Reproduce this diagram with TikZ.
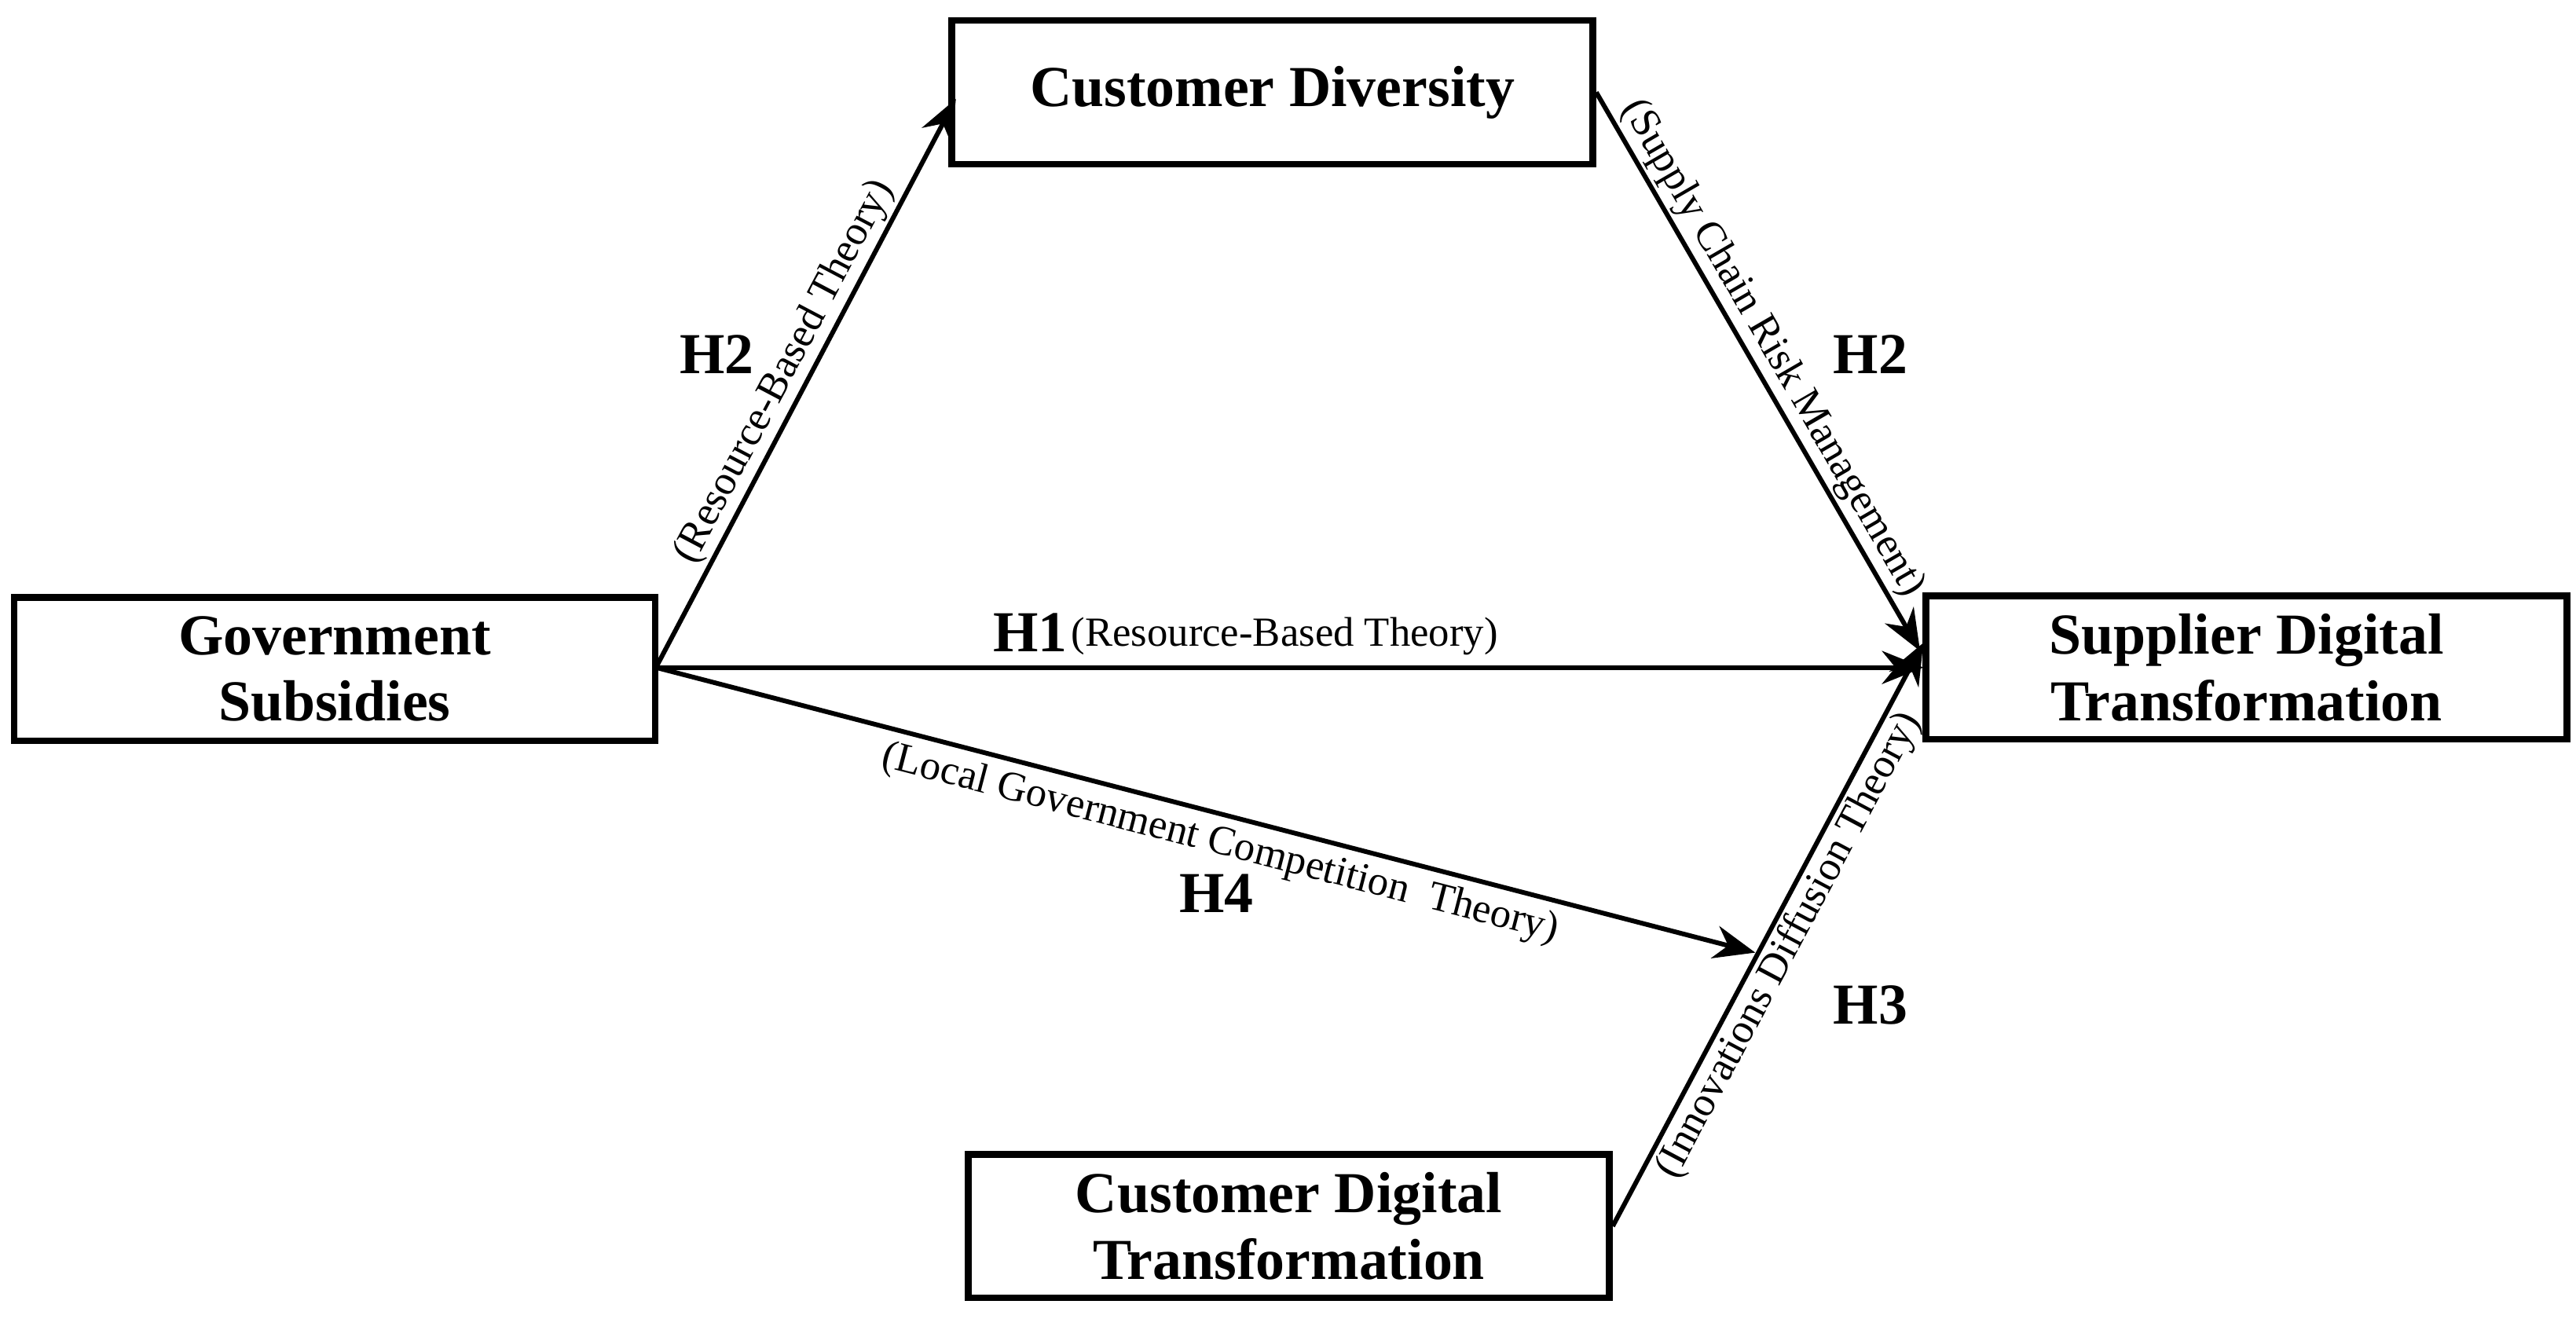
\documentclass[tikz,border=0pt]{standalone}
\usepackage{fontspec}
\setmainfont{Liberation Serif}
\usetikzlibrary{arrows.meta}
\begin{document}
\begin{tikzpicture}[x=0.02098cm,y=-0.02098cm,
  box/.style={draw,line width=2.4pt,minimum width=389*0.02098cm,minimum height=87*0.02098cm,align=center,font=\fontsize{21}{24}\selectfont\bfseries,inner sep=0pt},
  arr/.style={line width=1.7pt,-{Stealth[length=15pt,width=12pt]}},
  th/.style={font=\fontsize{15}{17}\selectfont,inner sep=1pt},
  hl/.style={font=\fontsize{21}{23}\selectfont\bfseries}]
\useasboundingbox (0,0) rectangle (1563,800);
\node[box] (cd) at (772,56) {Customer Diversity};
\node[box] (gs) at (203,406) {Government\\Subsidies};
\node[box] (sdt) at (1363,405) {Supplier Digital\\Transformation};
\node[box] (cdt) at (782,744) {Customer Digital\\Transformation};
\coordinate (a1) at (580,60);
\coordinate (a2) at (1165,395);
\coordinate (a3) at (1167,405);
\coordinate (a4) at (1065,578);
\coordinate (a5) at (1167,390);
\coordinate (s1) at (398,405);
\draw[arr] (s1) -- (a1) node[midway,sloped,above,th]{(Resource-Based Theory)};
\draw[arr] (s1) -- (a3);
\draw[arr] (s1) -- (a4) node[pos=0.52,sloped,below,th,yshift=-2pt]{(Local Government Competition \ Theory)};
\draw[arr] (cd.east) -- (a2) node[pos=0.48,sloped,above,th]{(Supply Chain Risk Management)};
\draw[arr] (cdt.east) -- (a5) node[midway,sloped,below,th]{(Innovations Diffusion Theory)};
\node[hl] (h2a) at (435,215) {H2};
\node[hl] (h2b) at (1135,215) {H2};
\node[hl] (h1) at (625,384) {H1};
\node[th,anchor=west] (h1t) at (648,386) {(Resource-Based Theory)};
\node[hl] (h4) at (738,542) {H4};
\node[hl] (h3) at (1135,610) {H3};
\end{tikzpicture}
\end{document}
